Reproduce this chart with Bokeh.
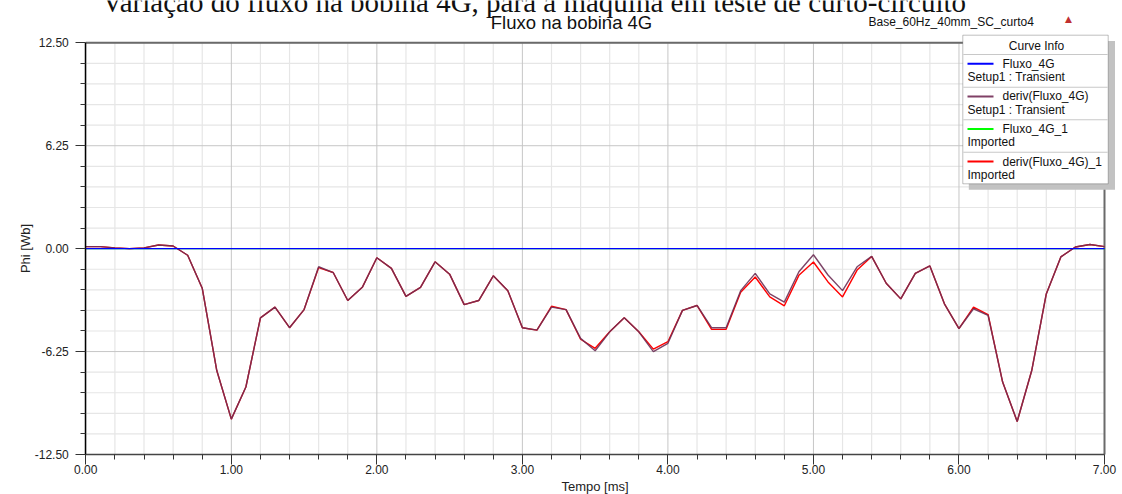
from bokeh.plotting import figure
from bokeh.models import (Range1d, FixedTicker, NumeralTickFormatter, Label,
                          BoxAnnotation, ColumnDataSource)
from bokeh.embed import file_html
from bokeh.resources import INLINE

# ---------------- data ----------------
tempo_ms = [0.0, 0.1, 0.2, 0.3, 0.4, 0.5, 0.6, 0.7, 0.8, 0.9,
            1.0, 1.1, 1.2, 1.3, 1.4, 1.5, 1.6, 1.7, 1.8, 1.9,
            2.0, 2.1, 2.2, 2.3, 2.4, 2.5, 2.6, 2.7, 2.8, 2.9,
            3.0, 3.1, 3.2, 3.3, 3.4, 3.5, 3.6, 3.7, 3.8, 3.9,
            4.0, 4.1, 4.2, 4.3, 4.4, 4.5, 4.6, 4.7, 4.8, 4.9,
            5.0, 5.1, 5.2, 5.3, 5.4, 5.5, 5.6, 5.7, 5.8, 5.9,
            6.0, 6.1, 6.2, 6.3, 6.4, 6.5, 6.6, 6.7, 6.8, 6.9, 7.0]

fluxo_4g = [0.0] * 71
fluxo_4g_1 = [0.0] * 71

deriv_fluxo_4g = [0.12, 0.12, 0.05, 0.00, 0.05, 0.22, 0.16, -0.40, -2.40, -7.40,
                  -10.35, -8.40, -4.20, -3.55, -4.80, -3.70, -1.10, -1.45, -3.15, -2.35,
                  -0.55, -1.20, -2.90, -2.35, -0.80, -1.55, -3.40, -3.15, -1.65, -2.55,
                  -4.80, -4.95, -3.55, -3.70, -5.45, -6.20, -5.05, -4.20, -5.05, -6.25,
                  -5.75, -3.75, -3.45, -4.80, -4.80, -2.55, -1.50, -2.75, -3.25, -1.40,
                  -0.37, -1.60, -2.55, -1.10, -0.47, -2.10, -3.05, -1.50, -1.05, -3.35,
                  -4.85, -3.65, -4.05, -8.10, -10.50, -7.40, -2.75, -0.50, 0.10, 0.25, 0.12]

deriv_fluxo_4g_1 = [0.12, 0.12, 0.05, 0.00, 0.05, 0.22, 0.16, -0.40, -2.40, -7.40,
                    -10.35, -8.40, -4.20, -3.55, -4.80, -3.70, -1.15, -1.45, -3.15, -2.35,
                    -0.55, -1.20, -2.90, -2.35, -0.80, -1.55, -3.40, -3.15, -1.65, -2.55,
                    -4.80, -4.95, -3.50, -3.70, -5.50, -6.05, -5.05, -4.20, -5.05, -6.10,
                    -5.65, -3.75, -3.45, -4.90, -4.90, -2.65, -1.72, -2.93, -3.47, -1.62,
                    -0.81, -2.02, -2.93, -1.30, -0.47, -2.10, -3.05, -1.50, -1.05, -3.35,
                    -4.85, -3.55, -4.00, -8.10, -10.50, -7.40, -2.75, -0.50, 0.10, 0.25, 0.12]

x_ticks = [0, 1, 2, 3, 4, 5, 6, 7]
x_minor = [0.2, 0.4, 0.6, 0.8, 1.2, 1.4, 1.6, 1.8, 2.2, 2.4, 2.6, 2.8, 3.2, 3.4, 3.6, 3.8,
           4.2, 4.4, 4.6, 4.8, 5.2, 5.4, 5.6, 5.8, 6.2, 6.4, 6.6, 6.8]
y_ticks = [-12.5, -6.25, 0.0, 6.25, 12.5]
y_minor = [-11.25, -10.0, -8.75, -7.5, -5.0, -3.75, -2.5, -1.25,
           1.25, 2.5, 3.75, 5.0, 7.5, 8.75, 10.0, 11.25]

legend_names = ["Fluxo_4G", "deriv(Fluxo_4G)", "Fluxo_4G_1", "deriv(Fluxo_4G)_1"]
legend_subs = ["Setup1 : Transient", "Setup1 : Transient", "Imported", "Imported"]
legend_colors = ["#0000ff", "#804066", "#00ff00", "#ff0000"]

# ---------------- layout: frame covers the whole canvas ----------------
W, H = 1122, 494
# reference pixel positions of the plot region
X0, X7 = 85.3, 1104.0
YT, YB = 42.3, 454.0
XMIN, XMAX = 0.0, 7.0
YMIN, YMAX = -12.5, 12.5
sx = (X7 - X0) / (XMAX - XMIN)
sy = (YB - YT) / (YMAX - YMIN)

p = figure(width=W, height=H, output_backend="svg", toolbar_location=None,
           x_range=Range1d(XMIN - X0 / sx, XMAX + (W - X7) / sx),
           y_range=Range1d(YMIN - (H - YB) / sy, YMAX + YT / sy),
           min_border_left=0, min_border_right=0, min_border_top=0,
           min_border_bottom=0, background_fill_color="white",
           border_fill_color="white")
p.outline_line_color = None
p.xgrid.visible = False
p.ygrid.visible = False


def px_x(X):
    return XMIN + (X - X0) / sx


def px_y(Y):
    return YMAX - (Y - YT) / sy


FONT = "Liberation Sans"

# ---------------- grid (bounded to the plot region) ----------------
p.segment(x0=x_minor, x1=x_minor, y0=[YMIN] * len(x_minor), y1=[YMAX] * len(x_minor),
          line_color="#e6e6e6", line_width=1.2)
p.segment(x0=[XMIN] * len(y_minor), x1=[XMAX] * len(y_minor), y0=y_minor, y1=y_minor,
          line_color="#e6e6e6", line_width=1.2)
p.segment(x0=x_ticks, x1=x_ticks, y0=[YMIN] * len(x_ticks), y1=[YMAX] * len(x_ticks),
          line_color="#c6c6c6", line_width=1)
p.segment(x0=[XMIN] * len(y_ticks), x1=[XMAX] * len(y_ticks), y0=y_ticks, y1=y_ticks,
          line_color="#c6c6c6", line_width=1)
# top and right borders
p.segment(x0=[XMIN, XMAX], x1=[XMAX, XMAX], y0=[YMAX, YMIN], y1=[YMAX, YMAX],
          line_color="#6a6a6a", line_width=2)

# ---------------- axes at fixed locations ----------------
p.xaxis.fixed_location = YMIN
p.yaxis.fixed_location = XMIN
p.xaxis.bounds = (XMIN, XMAX)
p.yaxis.bounds = (YMIN, YMAX)
p.xaxis.ticker = FixedTicker(ticks=x_ticks, minor_ticks=x_minor)
p.yaxis.ticker = FixedTicker(ticks=y_ticks, minor_ticks=y_minor)
p.xaxis.formatter = NumeralTickFormatter(format="0.00")
p.yaxis.formatter = NumeralTickFormatter(format="0.00")
for ax in (p.xaxis[0], p.yaxis[0]):
    ax.major_label_text_font = FONT
    ax.major_label_text_font_size = "12px"
    ax.major_label_text_color = "#222222"
    ax.axis_label_text_font = FONT
    ax.axis_label_text_font_size = "13px"
    ax.axis_label_text_font_style = "normal"
    ax.axis_label_text_color = "#222222"
    ax.major_tick_in = 0
    ax.minor_tick_in = 0
    ax.major_tick_out = 10
    ax.minor_tick_out = 5
    ax.major_tick_line_color = "#333333"
    ax.minor_tick_line_color = "#333333"

p.xaxis.axis_label = "Tempo [ms]"
p.xaxis.axis_line_color = "#444444"
p.xaxis.axis_line_width = 1.5
p.xaxis.major_label_standoff = 0
p.xaxis.axis_label_standoff = 2

p.yaxis.axis_label = "Phi [Wb]"
p.yaxis.axis_line_color = "#000000"
p.yaxis.axis_line_width = 1.5
p.yaxis.major_label_standoff = 7
p.yaxis.axis_label_standoff = -2

# ---------------- curves ----------------
src = ColumnDataSource(dict(t=tempo_ms, f=fluxo_4g, f1=fluxo_4g_1,
                            d=deriv_fluxo_4g, d1=deriv_fluxo_4g_1))
p.line("t", "f1", source=src, line_color=legend_colors[2], line_width=1.3)
p.line("t", "d1", source=src, line_color=legend_colors[3], line_width=1.4)
p.line("t", "d", source=src, line_color="#6e2f55", line_width=1.4, line_alpha=0.9)
p.line("t", "f", source=src, line_color=legend_colors[0], line_width=1.3)


def label(text, X, Y, size, align="left", font=FONT, color="#111111", baseline="middle"):
    p.add_layout(Label(x=px_x(X), y=px_y(Y), text=text, text_align=align,
                       text_baseline=baseline, text_font=font,
                       text_font_size=size, text_color=color))


# titles
label("Variação do fluxo na bobina 4G, para a máquina em teste de curto-circuito",
      533.5, 1.5, "29px", align="center", font="Liberation Serif", baseline="alphabetic")
label("Fluxo na bobina 4G", 571, 21.5, "18.5px", align="center")
label("Base_60Hz_40mm_SC_curto4", 868, 21.5, "12px")
label("▲", 1068, 18, "9px", align="center", font="DejaVu Sans", color="#c03030")

# ---------------- legend box ----------------
p.add_layout(BoxAnnotation(left=px_x(968.3), right=px_x(1114.5), top=px_y(40.5),
                           bottom=px_y(189.3), fill_color="#c2c2c2", fill_alpha=1,
                           line_color=None))
p.add_layout(BoxAnnotation(left=px_x(962.3), right=px_x(1107.7), top=px_y(34.7),
                           bottom=px_y(183.3), fill_color="white", fill_alpha=1,
                           line_color="#303030", line_width=1))
for ys in (54.0, 86.7, 119.3, 151.7):
    p.add_layout(BoxAnnotation(left=px_x(962.8), right=px_x(1107.2), top=px_y(ys - 0.5),
                               bottom=px_y(ys + 0.5), fill_color="#c8c8c8", fill_alpha=1,
                               line_color=None))
label("Curve Info", 1036, 45, "12px", align="center")
for k in range(4):
    yc = 63.3 + 32.6 * k
    p.add_layout(BoxAnnotation(left=px_x(967), right=px_x(993), top=px_y(yc - 1),
                               bottom=px_y(yc + 1), fill_color=legend_colors[k],
                               fill_alpha=1, line_color=None))
    label(legend_names[k], 1002, yc, "12px")
    label(legend_subs[k], 967, yc + 13.4, "12px")

open("out.html", "w").write(file_html(p, INLINE))
